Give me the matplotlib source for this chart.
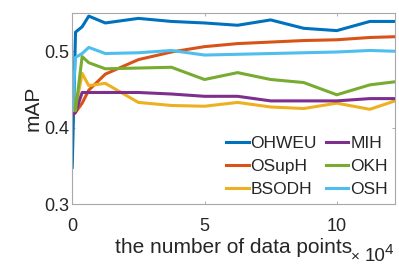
import matplotlib
matplotlib.use("Agg")
import matplotlib.pyplot as plt

x = [0, 1250, 3750, 6250, 12500, 25000, 37500, 50000, 62500, 75000, 87500, 100000, 112500, 122000]
ohweu = [0.348, 0.525, 0.532, 0.546, 0.537, 0.543, 0.539, 0.537, 0.534, 0.541, 0.530, 0.527, 0.539, 0.539]
osuph = [0.416, 0.420, 0.432, 0.449, 0.470, 0.489, 0.499, 0.506, 0.510, 0.512, 0.514, 0.515, 0.518, 0.519]
bsodh = [0.418, 0.425, 0.471, 0.455, 0.458, 0.433, 0.429, 0.428, 0.433, 0.427, 0.425, 0.432, 0.424, 0.435]
mih = [0.416, 0.420, 0.446, 0.446, 0.446, 0.446, 0.444, 0.441, 0.441, 0.435, 0.435, 0.435, 0.438, 0.438]
okh = [0.460, 0.422, 0.493, 0.485, 0.477, 0.478, 0.479, 0.463, 0.472, 0.463, 0.459, 0.443, 0.456, 0.460]
osh = [0.423, 0.492, 0.497, 0.505, 0.497, 0.498, 0.501, 0.495, 0.496, 0.497, 0.498, 0.499, 0.501, 0.500]

names = ["OHWEU", "OSupH", "BSODH", "MIH", "OKH", "OSH"]
series = [ohweu, osuph, bsodh, mih, okh, osh]
colors = ["#0072BD", "#D95319", "#EDB120", "#7E2F8E", "#77AC30", "#4DBEEE"]

plt.rcParams['font.family'] = ['Liberation Sans', 'DejaVu Sans']
txt = '#262626'

fig = plt.figure(figsize=(3.99, 2.66), dpi=100)
ax = fig.add_axes([0.181, 0.233, 0.809, 0.718])
for name, s, c in zip(names, series, colors):
    ax.plot(x, s, color=c, lw=2.2, label=name)

ax.set_xlim(0, 122000)
ax.set_ylim(0.3, 0.55)
ax.set_xticks([0, 50000, 100000])
ax.set_xticklabels(["0", "5", "10"])
ax.set_yticks([0.3, 0.4, 0.5])
ax.set_yticklabels(["0.3", "0.4", "0.5"])
ax.tick_params(direction='in', length=2.5, width=0.6, colors='#a0a0a0',
               labelcolor=txt, labelsize=13, top=True, right=True)
ax.tick_params(axis='x', pad=10)
ax.tick_params(axis='y', pad=2)
for sp in ax.spines.values():
    sp.set_color('#a8a8a8')
    sp.set_linewidth(0.8)

ax.set_xlabel("the number of data points", fontsize=15, color=txt, labelpad=2)
ax.set_ylabel("mAP", fontsize=15, color=txt, labelpad=1)
fig.text(0.879, 0.020, "\u00d7", fontsize=11, color=txt, ha='left', va='baseline')
fig.text(0.914, 0.020, "10", fontsize=13.5, color=txt, ha='left', va='baseline')
fig.text(0.964, 0.044, "4", fontsize=11, color=txt, ha='left', va='baseline')

ax.legend(ncol=2, loc='lower right', frameon=False, fontsize=12.5,
          handlelength=1.3, handletextpad=0.12, columnspacing=0.5,
          labelspacing=0.44, borderaxespad=0.0, labelcolor=txt,
          bbox_to_anchor=(1.0, 0.0))

fig.savefig("out.png", dpi=100)
